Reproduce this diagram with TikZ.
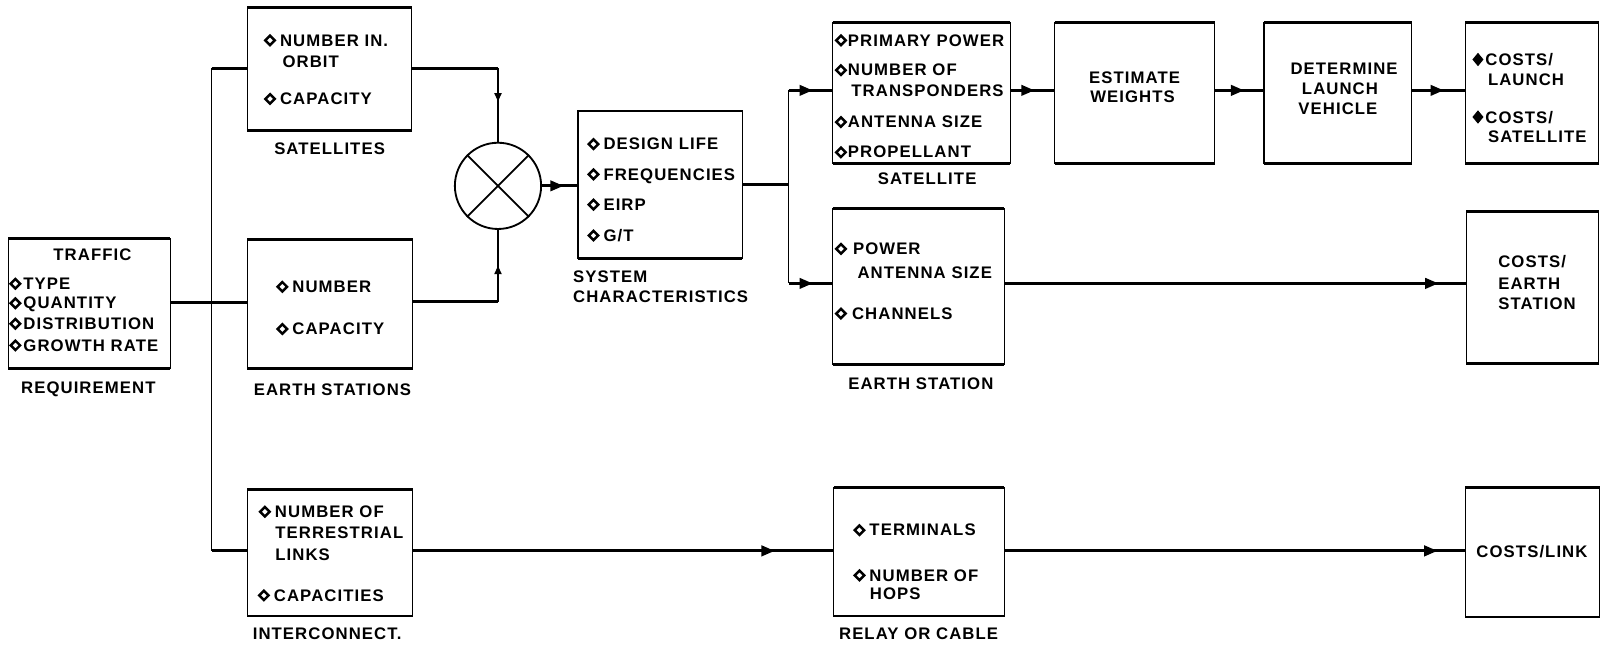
\documentclass[tikz,border=0pt]{standalone}
\usepackage{fontspec}
\setmainfont{Liberation Sans}[LetterSpace=6.4]
\usetikzlibrary{arrows.meta,decorations.markings}
\newcommand{\dia}{\raisebox{-0.3pt}{\tikz\draw[line width=2.4pt,fill=white,line join=miter] (0pt,4.6pt)--(4.6pt,0pt)--(0pt,-4.6pt)--(-4.6pt,0pt)--cycle;}}
\newcommand{\fdia}{\raisebox{-0.3pt}{\tikz\draw[line width=1.2pt,fill=black] (0pt,5.6pt)--(4.6pt,0pt)--(0pt,-5.6pt)--(-4.6pt,0pt)--cycle;}}
\begin{document}
\begin{tikzpicture}[x=1pt,y=-1pt,
  box/.style={draw,line width=1.2pt,inner sep=0pt,outer sep=0pt},
  edge/.style={line width=2.6pt},
  hl/.style={line width=3pt},
  vl/.style={line width=1.3pt},
  txt/.style={inner sep=0pt,text height=11.7pt,text depth=0pt,anchor=west,font=\bfseries\fontsize{16.3}{19}\selectfont},
  ctxt/.style={txt,anchor=center},
  arrowpos/.style={postaction={decorate},decoration={markings,mark=at position #1 with {\arrow{Triangle[length=13pt,width=10pt]}}}},
  sarrowpos/.style={postaction={decorate},decoration={markings,mark=at position #1 with {\arrow{Triangle[length=8pt,width=7pt]}}}}
]
\fill[white] (0,0) rectangle (1568,633);
\useasboundingbox (0,0) rectangle (1568,633);

% boxes
\node[box,minimum width=158pt,minimum height=127pt] (req) at (87,295.5) {};
\node[box,minimum width=160pt,minimum height=120pt] (sats) at (321,67) {};
\node[box,minimum width=161pt,minimum height=126pt] (ess) at (321.5,296) {};
\node[box,minimum width=161pt,minimum height=123pt] (inter) at (321.5,538.5) {};
\node[box,minimum width=160pt,minimum height=144pt] (sys) at (643,180) {};
\node[box,minimum width=173pt,minimum height=137pt] (satm) at (897.5,90.5) {};
\node[box,minimum width=167pt,minimum height=152pt] (esm) at (894.5,279) {};
\node[box,minimum width=156pt,minimum height=137pt] (est) at (1105,90.5) {};
\node[box,minimum width=144pt,minimum height=137pt] (det) at (1303,90.5) {};
\node[box,minimum width=130pt,minimum height=137pt] (cost) at (1492,90.5) {};
\node[box,minimum width=129pt,minimum height=148pt] (costes) at (1492.5,280) {};
\node[box,minimum width=166pt,minimum height=125pt] (relay) at (895,537.5) {};
\node[box,minimum width=131pt,minimum height=126pt] (clink) at (1492.5,538) {};
\foreach \n in {req,sats,ess,inter,sys,satm,esm,est,det,cost,costes,relay,clink}{
  \draw[edge] (\n.north west) -- (\n.north east);
  \draw[edge] (\n.south west) -- (\n.south east);
}

% combiner
\node[draw,circle,line width=1.8pt,minimum size=84pt,inner sep=0pt] (X) at (485,181) {};
\draw[line width=1.8pt] (X.north west) -- (X.south east);
\draw[line width=1.8pt] (X.north east) -- (X.south west);

% connectors
\coordinate (tS) at (206,66.5);
\coordinate (tI) at (206,536.5);
\coordinate (qR) at (0,295);
\coordinate (cS) at (485,66.5);
\coordinate (cE) at (485,294);
\coordinate (vM) at (768,180);
\coordinate (vT) at (768,88);
\coordinate (vB) at (768,276);
\draw[vl] (tS) -- (tI);
\draw[hl] (tS) -- (sats.west |- tS);
\draw[hl] (tI) -- (inter.west |- tI);
\draw[hl] (req.east |- qR) -- (ess.west |- qR);
\draw[hl] (sats.east |- cS) -- (cS);
\draw[vl,sarrowpos=0.45] (cS) -- (X.north);
\draw[hl] (ess.east |- cE) -- (cE);
\draw[vl,sarrowpos=0.5] (cE) -- (X.south);
\draw[hl,arrowpos=0.6] (X.east) -- (sys.west |- X.east);
\draw[hl] (sys.east |- vM) -- (vM);
\draw[vl] (vT) -- (vB);
\draw[hl,arrowpos=0.55] (vT) -- (satm.west |- vT);
\draw[hl,arrowpos=0.55] (vB) -- (esm.west |- vB);
\draw[hl,arrowpos=0.55] (satm.east |- vT) -- (est.west |- vT);
\draw[hl,arrowpos=0.6] (est.east |- vT) -- (det.west |- vT);
\draw[hl,arrowpos=0.6] (det.east |- vT) -- (cost.west |- vT);
\draw[hl,arrowpos=0.94] (esm.east |- vB) -- (costes.west |- vB);
\draw[hl,arrowpos=0.86] (inter.east |- tI) -- (relay.west |- tI);
\draw[hl,arrowpos=0.94] (relay.east |- tI) -- (clink.west |- tI);

% requirement
\node[ctxt] (reqT) at (90,248) {TRAFFIC};
\node[txt] (req1) at (9,276) {\dia\hspace{2pt}TYPE};
\node[txt] (req2) at (9,295) {\dia\hspace{2pt}QUANTITY};
\node[txt] (req3) at (9,315) {\dia\hspace{2pt}DISTRIBUTION};
\node[txt] (req4) at (9,336) {\dia\hspace{2pt}GROWTH RATE};
\node[ctxt] (reqL) at (86,377) {REQUIREMENT};
% satellites
\node[txt] (s1) at (257,39) {\dia\hspace{4pt}NUMBER IN.};
\node[txt] (s2) at (275,60) {ORBIT};
\node[txt] (s3) at (257,96) {\dia\hspace{4pt}CAPACITY};
\node[ctxt] (sL) at (321,144.5) {SATELLITES};
% earth stations
\node[txt] (e1) at (269,279) {\dia\hspace{4pt}NUMBER};
\node[txt] (e2) at (269,320) {\dia\hspace{4pt}CAPACITY};
\node[txt] (eL) at (247,379) {EARTH STATIONS};
% interconnect
\node[txt] (i1) at (252,498) {\dia\hspace{4pt}NUMBER OF};
\node[txt] (i2) at (268,519) {TERRESTRIAL};
\node[txt] (i3) at (268,540.5) {LINKS};
\node[txt] (i4) at (251,579.5) {\dia\hspace{4pt}CAPACITIES};
\node[txt] (iL) at (246,617) {INTERCONNECT.};
% system characteristics
\node[txt] (y1) at (572,140) {\dia\hspace{4pt}DESIGN LIFE};
\node[txt] (y2) at (572,169.5) {\dia\hspace{4pt}FREQUENCIES};
\node[txt] (y3) at (572,199) {\dia\hspace{4pt}EIRP};
\node[txt] (y4) at (572,229) {\dia\hspace{4pt}G/T};
\node[txt] (yL1) at (558,269.5) {SYSTEM};
\node[txt] (yL2) at (558,289) {CHARACTERISTICS};
% satellite
\node[txt] (m1) at (813,39) {\dia\hspace{1pt}PRIMARY POWER};
\node[txt] (m2) at (813,68) {\dia\hspace{1pt}NUMBER OF};
\node[txt] (m3) at (829,88.3) {TRANSPONDERS};
\node[txt] (m4) at (813,118.5) {\dia\hspace{1pt}ANTENNA SIZE};
\node[txt] (m5) at (813,148) {\dia\hspace{1pt}PROPELLANT};
\node[ctxt] (mL) at (903,174) {SATELLITE};
% earth station
\node[txt] (n1) at (813,242) {\dia\hspace{6pt}POWER};
\node[txt] (n2) at (835,265) {ANTENNA SIZE};
\node[txt] (n3) at (813,305) {\dia\hspace{5pt}CHANNELS};
\node[txt] (nL) at (826,373) {EARTH STATION};
% estimate / determine
\node[ctxt] (w1) at (1105,75) {ESTIMATE};
\node[ctxt] (w2) at (1103,94) {WEIGHTS};
\node[ctxt] (d1) at (1309,66.6) {DETERMINE};
\node[ctxt] (d2) at (1305,86) {LAUNCH};
\node[ctxt] (d3) at (1303,105.5) {VEHICLE};
% costs
\node[txt] (c1) at (1434,58) {\fdia\hspace{2pt}COSTS/};
\node[txt] (c2) at (1449,77) {LAUNCH};
\node[txt] (c3) at (1434,114) {\fdia\hspace{2pt}COSTS/};
\node[txt] (c4) at (1449,133) {SATELLITE};
\node[txt] (k1) at (1459,255) {COSTS/};
\node[txt] (k2) at (1459,276) {EARTH};
\node[txt] (k3) at (1459,295.5) {STATION};
% relay
\node[txt] (r1) at (831,516) {\dia\hspace{4pt}TERMINALS};
\node[txt] (r2) at (831,560) {\dia\hspace{4pt}NUMBER OF};
\node[txt] (r3) at (847,578) {HOPS};
\node[txt] (rL) at (817,617) {RELAY OR CABLE};
\node[ctxt] (l1) at (1492,537) {COSTS/LINK};
\end{tikzpicture}
\end{document}
